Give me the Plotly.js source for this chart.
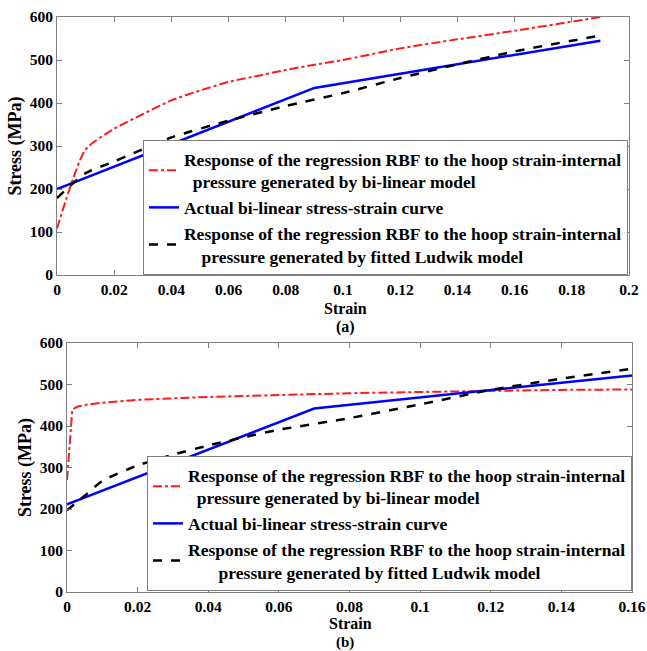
<!DOCTYPE html>
<html>
<head>
<meta charset="utf-8">
<script src="https://cdn.plot.ly/plotly-3.0.1.min.js"></script>
<style>
html,body{margin:0;padding:0;background:#fff;}
#chart{width:647px;height:651px;}
</style>
</head>
<body>
<div id="chart"></div>
<script>
// ---- Panel (a) data ----
const aRedX   = [0, 0.01, 0.02, 0.03, 0.04, 0.05, 0.06, 0.07, 0.08, 0.09, 0.1, 0.12, 0.14, 0.16, 0.19];
const aRedY   = [108, 292, 340, 374, 406, 429, 449, 463, 477, 489, 500, 527, 548, 568, 600];
const aBlueX  = [0, 0.09, 0.19];
const aBlueY  = [200, 435, 545];
const aBlackX = [0, 0.01, 0.02, 0.04, 0.06, 0.08, 0.1, 0.12, 0.14, 0.16, 0.19];
const aBlackY = [179, 237, 264, 320, 359, 393, 423, 458, 490, 520, 557];

// ---- Panel (b) data ----
const bRedX   = [0, 0.0005, 0.001, 0.0015, 0.003, 0.006, 0.01, 0.02, 0.04, 0.06, 0.08, 0.1, 0.12, 0.14, 0.16];
const bRedY   = [270, 330, 400, 440, 447, 452, 456, 463, 470, 475, 479, 482, 485, 487, 488];
const bBlueX  = [0, 0.07, 0.16];
const bBlueY  = [211, 442, 522];
const bBlackX = [0, 0.005, 0.01, 0.02, 0.03, 0.04, 0.05, 0.06, 0.08, 0.1, 0.12, 0.14, 0.16];
const bBlackY = [197, 232, 268, 305, 331, 353, 373, 391, 419, 452, 487, 514, 538];

const aTicks = [0, 0.02, 0.04, 0.06, 0.08, 0.1, 0.12, 0.14, 0.16, 0.18, 0.2];
const bTicks = [0, 0.02, 0.04, 0.06, 0.08, 0.1, 0.12, 0.14, 0.16];
const yTicks = [0, 100, 200, 300, 400, 500, 600];

const NB = '\u00A0';
const name1 = 'Response of the regression RBF to the hoop strain-internal<br>' + NB.repeat(2) + 'pressure generated by bi-linear model';
const name2 = 'Actual bi-linear stress-strain curve';
const name3 = 'Response of the regression RBF to the hoop strain-internal<br>' + NB.repeat(4) + 'pressure generated by fitted Ludwik model';
const name3b = 'Response of the regression RBF to the hoop strain-internal<br>' + NB.repeat(7) + 'pressure generated by fitted Ludwik model';

const FONT = '"Liberation Serif", "Times New Roman", Times, serif';
const RED = '#ff1a1a', BLUE = '#0000ff', BLACK = '#000000';

const traces = [
  {x: aRedX, y: aRedY, xaxis: 'x', yaxis: 'y', mode: 'lines', name: name1, legend: 'legend',
   line: {color: RED, width: 2, dash: 'dashdot', shape: 'spline', smoothing: 0.6}},
  {x: aBlueX, y: aBlueY, xaxis: 'x', yaxis: 'y', mode: 'lines', name: name2, legend: 'legend',
   line: {color: BLUE, width: 2.5}},
  {x: aBlackX, y: aBlackY, xaxis: 'x', yaxis: 'y', mode: 'lines', name: name3, legend: 'legend',
   line: {color: BLACK, width: 2.5, dash: 'dash', shape: 'spline', smoothing: 0.6}},
  {x: bRedX, y: bRedY, xaxis: 'x2', yaxis: 'y2', mode: 'lines', name: name1, legend: 'legend2',
   line: {color: RED, width: 2, dash: 'dashdot'}},
  {x: bBlueX, y: bBlueY, xaxis: 'x2', yaxis: 'y2', mode: 'lines', name: name2, legend: 'legend2',
   line: {color: BLUE, width: 2.5}},
  {x: bBlackX, y: bBlackY, xaxis: 'x2', yaxis: 'y2', mode: 'lines', name: name3b, legend: 'legend2',
   line: {color: BLACK, width: 2.5, dash: 'dash', shape: 'spline', smoothing: 0.5}}
];

const tickFont = {family: FONT, size: 15.5, color: '#000', weight: 'bold'};
const titleFont = {family: FONT, size: 18, color: '#000', weight: 'bold'};
const xTitleFont = {family: FONT, size: 16, color: '#000', weight: 'bold'};
const capFont = {family: FONT, size: 16, color: '#000', weight: 'bold'};
const capFontB = {family: FONT, size: 15, color: '#000', weight: 'bold'};
const axisCommon = {
  showgrid: false, zeroline: false, showline: true, linecolor: '#7f7f7f', linewidth: 1,
  mirror: 'ticks', ticks: 'inside', ticklen: 5, tickcolor: '#7f7f7f',
  tickfont: tickFont
};

const legendCommon = {
  bgcolor: '#ffffff', bordercolor: '#7f7f7f', borderwidth: 1,
  font: {family: FONT, size: 17.5, color: '#000', weight: 'bold'},
  itemwidth: 30, tracegroupgap: 0
};

const layout = {
  width: 647, height: 651,
  margin: {l: 0, r: 0, t: 0, b: 0},
  font: {family: FONT, color: '#000', weight: 'bold'},
  paper_bgcolor: '#fff', plot_bgcolor: '#fff',
  showlegend: true,
  xaxis: Object.assign({}, axisCommon, {domain: [0.0881, 0.9722], anchor: 'y', range: [0, 0.2],
    tickvals: aTicks, ticktext: aTicks.map(String)}),
  yaxis: Object.assign({}, axisCommon, {domain: [1 - 275/651, 1 - 17/651], anchor: 'x', range: [0, 600],
    tickvals: yTicks,
    title: {text: 'Stress (MPa)', font: titleFont, standoff: 3}}),
  xaxis2: Object.assign({}, axisCommon, {domain: [0.1036, 0.9768], anchor: 'y2', range: [0, 0.16],
    tickvals: bTicks, ticktext: bTicks.map(String)}),
  yaxis2: Object.assign({}, axisCommon, {domain: [1 - 592/651, 1 - 343/651], anchor: 'x2', range: [0, 600],
    tickvals: yTicks,
    title: {text: 'Stress (MPa)', font: titleFont, standoff: 3}}),
  legend: Object.assign({}, legendCommon, {x: 0.9706, xanchor: 'right', y: 1 - 275/651, yanchor: 'bottom'}),
  legend2: Object.assign({}, legendCommon, {x: 0.9768, xanchor: 'right', y: 1 - 591/651, yanchor: 'bottom'}),
  annotations: [
    {text: 'Strain', xref: 'paper', yref: 'paper', x: 345/647, y: 1 - 308/651, showarrow: false,
     font: xTitleFont, xanchor: 'center', yanchor: 'middle', borderpad: 0},
    {text: '(a)', xref: 'paper', yref: 'paper', x: 345/647, y: 1 - 327/651, showarrow: false,
     font: capFont, xanchor: 'center', yanchor: 'middle', borderpad: 0},
    {text: 'Strain', xref: 'paper', yref: 'paper', x: 350/647, y: 1 - 623.5/651, showarrow: false,
     font: xTitleFont, xanchor: 'center', yanchor: 'middle', borderpad: 0},
    {text: '(b)', xref: 'paper', yref: 'paper', x: 345/647, y: 1 - 642.3/651, showarrow: false,
     font: capFontB, xanchor: 'center', yanchor: 'middle', borderpad: 0}
  ]
};

Plotly.newPlot('chart', traces, layout, {displayModeBar: false, staticPlot: true});
</script>
</body>
</html>
